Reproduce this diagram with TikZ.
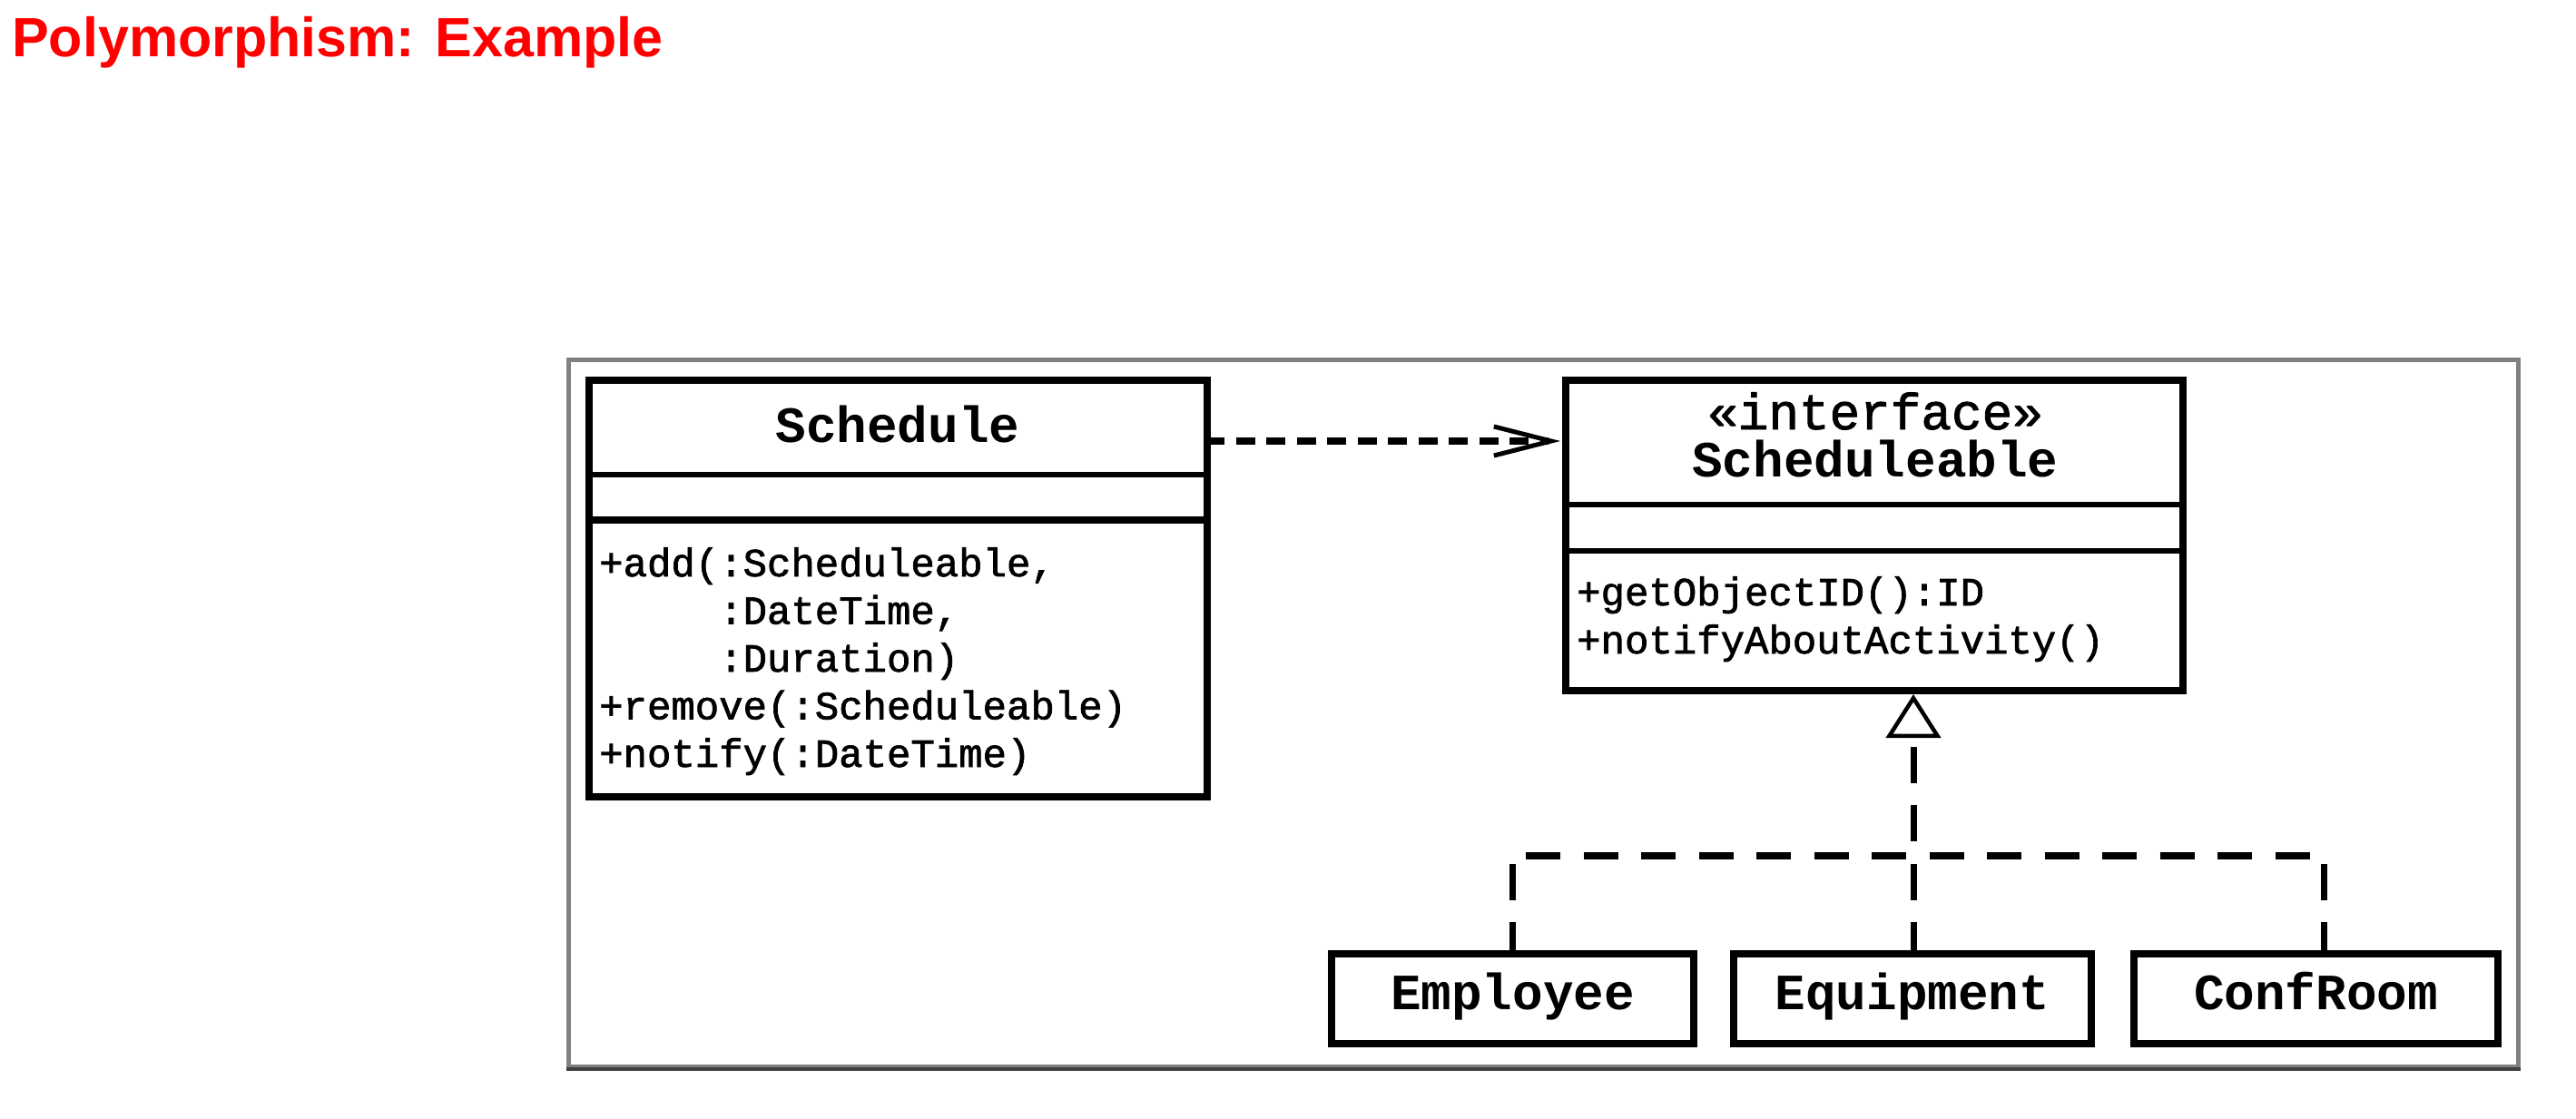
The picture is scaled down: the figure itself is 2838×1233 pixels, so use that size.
\documentclass[tikz,border=0pt]{standalone}
\usepackage{fontspec}
\setmainfont{Liberation Sans}
\newfontfamily\umlmono{Liberation Mono}
\newfontfamily\umlmonomed[FakeBold=1.6]{Liberation Mono}
\usetikzlibrary{arrows.meta}

\definecolor{titlered}{RGB}{255,0,0}
\definecolor{framegray}{RGB}{128,128,128}
\definecolor{framedark}{RGB}{64,64,64}

\tikzset{
  umlbox/.style={draw=black, line width=8pt, inner sep=0pt, fill=white},
  leafbox/.style={umlbox, minimum height=99pt, text height=36pt, text depth=12pt,
    font=\umlmono\bfseries\fontsize{56}{60}\selectfont},
  divider/.style={line width=6pt},
  clsname/.style={font=\umlmono\bfseries\fontsize{56}{60}\selectfont, inner sep=0pt, anchor=base},
  stereo/.style={font=\umlmonomed\fontsize{56}{60}\selectfont, inner sep=0pt, anchor=base},
  member/.style={font=\umlmonomed\fontsize{44}{50}\selectfont, inner sep=0pt, anchor=base west},
  dependency/.style={line width=8pt, dash pattern=on 21pt off 12.5pt, dash phase=6pt,
    shorten >=2pt, -{Straight Barb[length=63pt, width=32pt, line width=5pt]}},
  realize/.style={line width=7pt, dash pattern=on 40pt off 24pt},
  frame/.style={draw=framegray, line width=5pt, inner sep=0pt},
}

\begin{document}
\begin{tikzpicture}[x=1pt, y=-1pt]
  \useasboundingbox[fill=white] (0,0) rectangle (2838,1233);

  % heading
  \node[anchor=base west, inner sep=0pt, text=titlered,
        font=\bfseries\fontsize{61}{70}\selectfont] (title) at (13,63) {Polymorphism: Example};

  % surrounding frame
  \node[frame, minimum width=2148pt, minimum height=779pt] (frame) at (1700,785.5) {};
  \draw[framedark, line width=4pt] (frame.south west) -- (frame.south east);

  % class Schedule
  \node[umlbox, minimum width=681pt, minimum height=459pt] (sched) at (989.5,648.5) {};
  \draw[divider] (sched.west |- 0,523) -- (sched.east |- 0,523);
  \draw[divider, line width=8pt] (sched.west |- 0,573) -- (sched.east |- 0,573);
  \node[clsname] (schedname) at (989,487) {Schedule};
  \node[member] (sop1) at (660,635)   {+add(:Scheduleable,};
  \node[member] (sop2) at (660,687.5) {\phantom{+add(}:DateTime,};
  \node[member] (sop3) at (660,740)   {\phantom{+add(}:Duration)};
  \node[member] (sop4) at (660,792.5) {+remove(:Scheduleable)};
  \node[member] (sop5) at (660,845)   {+notify(:DateTime)};

  % interface Scheduleable
  \node[umlbox, minimum width=680pt, minimum height=342pt] (iface) at (2065,590) {};
  \draw[divider] (iface.west |- 0,556) -- (iface.east |- 0,556);
  \draw[divider] (iface.west |- 0,607) -- (iface.east |- 0,607);
  \node[stereo] (stereo) at (2066,473) {«interface»};
  \node[clsname] (ifname) at (2066,525) {Scheduleable};
  \node[member] (iop1) at (1737,667) {+getObjectID():ID};
  \node[member] (iop2) at (1737,720) {+notifyAboutActivity()};

  % implementing classes
  \node[leafbox, minimum width=399pt] (emp)  at (1666.5,1100.5) {Employee};
  \node[leafbox, minimum width=394pt] (equ)  at (2107,1100.5)   {Equipment};
  \node[leafbox, minimum width=401pt] (conf) at (2551.5,1100.5) {ConfRoom};

  % dependency Schedule -> Scheduleable
  \draw[dependency] (sched.east |- 0,486) -- (iface.west |- 0,486);

  % realization tree
  \coordinate (hub) at (2108,943);
  \coordinate (rightjoin) at (2560,943);
  \draw[realize, dash phase=48pt,
        -{Triangle[open, length=48pt, width=60pt, line width=4.5pt, fill=white]}]
        (hub) -- (hub |- iface.south);
  \draw[realize, line width=8pt, dash pattern=on 38pt off 25.5pt, dash phase=49pt]
        (hub -| emp.north) -- (rightjoin);
  \draw[realize, dash phase=55pt] (hub -| emp.north) -- (emp.north);
  \draw[realize, dash phase=55pt] (hub) -- (hub |- equ.north);
  \draw[realize, dash phase=55pt] (rightjoin) -- (rightjoin |- conf.north);
\end{tikzpicture}
\end{document}
